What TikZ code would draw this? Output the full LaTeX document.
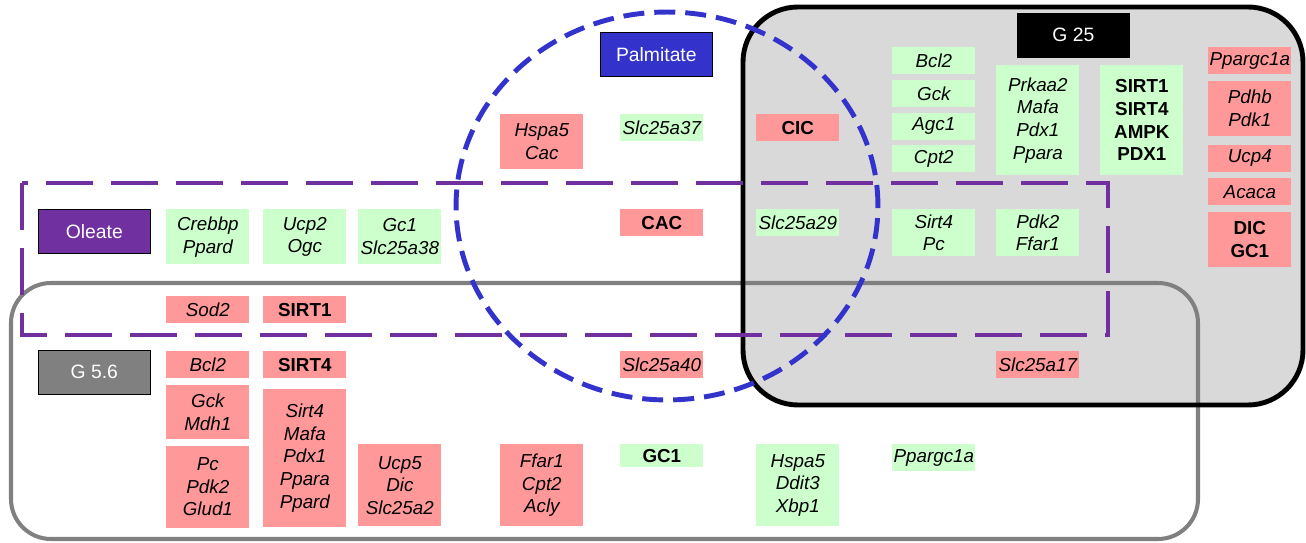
\documentclass[tikz,border=0pt]{standalone}
\usepackage{fontspec}
\setmainfont{Liberation Sans}
\usetikzlibrary{positioning}

\definecolor{upgreen}{HTML}{CCFFCC}
\definecolor{downred}{HTML}{FF9999}
\definecolor{palblue}{HTML}{3333CC}
\definecolor{olepurple}{HTML}{7030A0}
\definecolor{lowgray}{HTML}{808080}
\definecolor{highgray}{HTML}{D9D9D9}

\begin{document}
\begin{tikzpicture}[x=0.02cm, y=-0.02cm,
            gene/.style={anchor=north west, minimum width=1.66cm, minimum height=0.54cm, inner sep=0pt,
                         align=center, font=\itshape\fontsize{10.7}{12.9}\selectfont},
            up/.style={gene, fill=upgreen},
            down/.style={gene, fill=downred},
            caps/.style={font=\bfseries\fontsize{10.7}{12.9}\selectfont},
            cond/.style={anchor=north west, draw=black, thin, minimum width=2.24cm, minimum height=0.88cm,
                         inner sep=0pt, text=white, font=\fontsize{11}{13}\selectfont},
            node distance = 0.12cm
  ]

  \useasboundingbox (0,0) rectangle (1306,543);

  % conditions
  \fill[highgray, rounded corners=1.1cm] (743,7) rectangle (1303,405);
  \draw[lowgray, line width=2.3pt, rounded corners=0.8cm] (11,283) rectangle (1198,539);
  \draw[black, line width=2.8pt, rounded corners=1.1cm] (743,7) rectangle (1303,405);
  \draw[olepurple, line width=2.8pt, dash pattern=on 0.94cm off 0.36cm] (22,183) rectangle (1108,335);
  \draw[palblue, line width=2.8pt, dash pattern=on 0.42cm off 0.2cm] (667,206) ellipse [x radius=4.22cm, y radius=3.88cm];

  \node[cond, fill=palblue] (pal) at (600,32) {Palmitate};
  \node[cond, fill=black] (gtf) at (1017,13) {G 25};
  \node[cond, fill=olepurple] (ole) at (38,209) {Oleate};
  \node[cond, fill=lowgray] (gfs) at (38,350) {G 5.6};

  % oleate
  \node[up, minimum height=1.1cm] (crebbp) at (166,209) {Crebbp\\Ppard};
  \node[up, minimum height=1.1cm] (ucp2) at (263,209) {Ucp2\\Ogc};
  \node[up, minimum height=1.1cm] (gcone) at (358,209) {Gc1\\Slc25a38};
  \node[down] (sod2) at (166,296) {Sod2};
  \node[down, caps] (sirtoneL) at (263,296) {SIRT1};

  % palmitate
  \node[down, minimum height=1.1cm] (hspaP) at (500,114) {Hspa5\\Cac};
  \node[up] (slcthirtyseven) at (620,114) {Slc25a37};
  \node[down, caps] (cic) at (756,114) {CIC};
  \node[down, caps] (cac) at (620,209) {CAC};
  \node[up] (slctwentynine) at (756,209) {Slc25a29};
  \node[down] (slcforty) at (620,351) {Slc25a40};

  % high glucose
  \node[up] (bclH) at (892,47) {Bcl2};
  \node[up, below=0.1cm of bclH] (gckH) {Gck};
  \node[up, below=0.1cm of gckH] (agcone) {Agc1};
  \node[up, below=0.1cm of agcone] (cpttwoH) {Cpt2};
  \node[up, minimum height=2.2cm] (prkaa) at (996,65) {Prkaa2\\Mafa\\Pdx1\\Ppara};
  \node[up, caps, minimum height=2.2cm] (sirtH) at (1100,65) {SIRT1\\SIRT4\\AMPK\\PDX1};
  \node[up, minimum height=0.94cm] (sirtpc) at (892,209) {Sirt4\\Pc};
  \node[up, minimum height=0.94cm] (pdkffar) at (996,209) {Pdk2\\Ffar1};
  \node[down] (ppargH) at (1208,47) {Ppargc1a};
  \node[down, minimum height=1.1cm, below=of ppargH] (pdhb) {Pdhb\\Pdk1};
  \node[down, below=0.16cm of pdhb] (ucpfour) {Ucp4};
  \node[down, below=of ucpfour] (acaca) {Acaca};
  \node[down, caps, minimum height=1.1cm, below=of acaca] (dic) {DIC\\GC1};
  \node[down] (slcseventeen) at (996,351) {Slc25a17};

  % low glucose
  \node[down] (bclL) at (166,351) {Bcl2};
  \node[down, minimum height=1.08cm, below=of bclL] (gckL) {Gck\\Mdh1};
  \node[down, minimum height=1.64cm, below=of gckL] (pcpdk) {Pc\\Pdk2\\Glud1};
  \node[down, caps] (sirtfourL) at (263,351) {SIRT4};
  \node[down, minimum height=2.76cm, below=0.2cm of sirtfourL] (sirtlist) {Sirt4\\Mafa\\Pdx1\\Ppara\\Ppard};
  \node[down, minimum height=1.64cm] (ucpfive) at (358,444) {Ucp5\\Dic\\Slc25a2};
  \node[down, minimum height=1.64cm] (ffar) at (500,444) {Ffar1\\Cpt2\\Acly};
  \node[up, caps, minimum height=0.46cm] (gconeL) at (620,444) {GC1};
  \node[up, minimum height=1.64cm] (hspaL) at (756,444) {Hspa5\\Ddit3\\Xbp1};
  \node[up] (ppargL) at (892,444) {Ppargc1a};

\end{tikzpicture}
\end{document}
